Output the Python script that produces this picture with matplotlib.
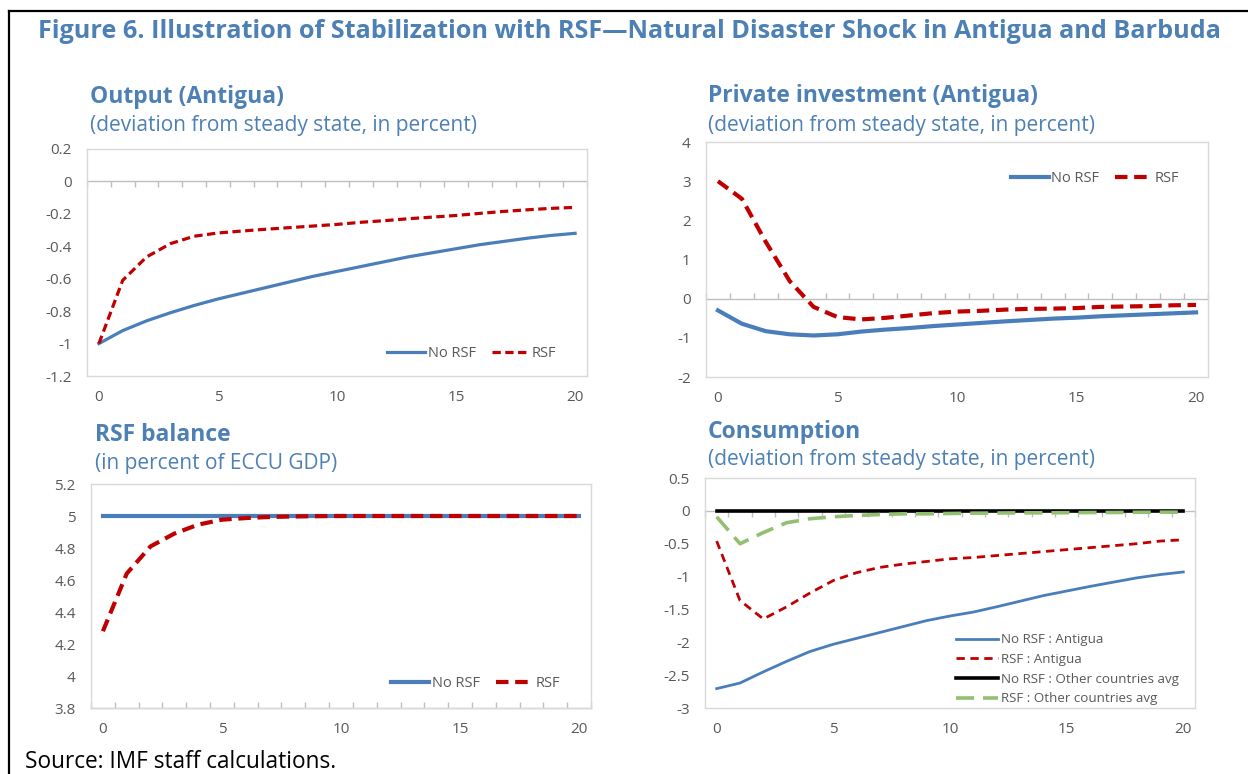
import matplotlib
matplotlib.use("Agg")
import matplotlib.pyplot as plt
from matplotlib.lines import Line2D
import numpy as np

plt.rcParams['font.family'] = ['Open Sans', 'DejaVu Sans']

W, H = 1248, 774
periods = list(range(21))

# Output (Antigua)
output_no_rsf = [-1.0, -0.92, -0.86, -0.81, -0.765, -0.725, -0.69, -0.655, -0.62, -0.585, -0.555,
                 -0.525, -0.495, -0.465, -0.44, -0.415, -0.39, -0.37, -0.35, -0.333, -0.32]
output_rsf = [-1.0, -0.61, -0.466, -0.384, -0.338, -0.318, -0.306, -0.295, -0.285, -0.275, -0.265,
              -0.252, -0.242, -0.23, -0.22, -0.21, -0.197, -0.185, -0.175, -0.166, -0.16]

# Private investment (Antigua)
inv_no_rsf = [-0.3, -0.64, -0.83, -0.91, -0.94, -0.91, -0.84, -0.79, -0.75, -0.70, -0.66,
              -0.62, -0.58, -0.545, -0.51, -0.485, -0.45, -0.425, -0.40, -0.375, -0.35]
inv_rsf = [3.0, 2.55, 1.45, 0.45, -0.21, -0.47, -0.53, -0.49, -0.43, -0.37, -0.33,
           -0.31, -0.28, -0.26, -0.255, -0.24, -0.21, -0.2, -0.19, -0.17, -0.16]

# RSF balance (in percent of ECCU GDP)
bal_no_rsf = [5.0] * 21
bal_rsf = [4.28, 4.64, 4.81, 4.89, 4.946, 4.977, 4.987, 4.994, 4.997, 4.999, 5.0,
           5.0, 5.0, 5.0, 5.0, 5.0, 5.0, 5.0, 5.0, 5.0, 5.0]

# Consumption
cons_no_rsf_ant = [-2.705, -2.62, -2.45, -2.29, -2.14, -2.03, -1.94, -1.85, -1.76, -1.67, -1.60,
                   -1.54, -1.46, -1.375, -1.29, -1.22, -1.15, -1.085, -1.02, -0.97, -0.93]
cons_rsf_ant = [-0.46, -1.365, -1.645, -1.46, -1.25, -1.06, -0.94, -0.86, -0.81, -0.77, -0.73,
                -0.71, -0.68, -0.65, -0.62, -0.59, -0.56, -0.53, -0.50, -0.46, -0.44]
cons_no_rsf_oth = [0.0] * 21
cons_rsf_oth = [-0.09, -0.5, -0.33, -0.18, -0.12, -0.09, -0.07, -0.056, -0.045, -0.045, -0.04,
                -0.035, -0.033, -0.03, -0.03, -0.028, -0.025, -0.025, -0.022, -0.02, -0.02]

out_yticks = [-1.2, -1.0, -0.8, -0.6, -0.4, -0.2, 0.0, 0.2]
out_ylabels = ['-1.2', '-1', '-0.8', '-0.6', '-0.4', '-0.2', '0', '0.2']
inv_yticks = [-2, -1, 0, 1, 2, 3, 4]
inv_ylabels = ['-2', '-1', '0', '1', '2', '3', '4']
bal_yticks = [3.8, 4.0, 4.2, 4.4, 4.6, 4.8, 5.0, 5.2]
bal_ylabels = ['3.8', '4', '4.2', '4.4', '4.6', '4.8', '5', '5.2']
cons_yticks = [-3, -2.5, -2, -1.5, -1, -0.5, 0, 0.5]
cons_ylabels = ['-3', '-2.5', '-2', '-1.5', '-1', '-0.5', '0', '0.5']
xticks = [0, 5, 10, 15, 20]

BLUE = '#4A7EBB'
RED = '#C00000'
GREEN = '#93BF72'
TITLE = '#4D80B5'
GRAY_TXT = '#595959'
BOX = '#D9D9D9'
AXLINE = '#BFBFBF'

fig = plt.figure(figsize=(W / 100, H / 100), dpi=100)


def add_ax(l, t, r, b):
    return fig.add_axes([l / W, 1 - b / H, (r - l) / W, (b - t) / H])


def style(ax, yticks, ylabels, cross):
    ax.set_xlim(-0.5, 20.5)
    ax.set_ylim(yticks[0], yticks[-1])
    ax.set_yticks(yticks)
    ax.set_yticklabels(ylabels)
    ax.set_xticks(xticks)
    ax.set_xticklabels([str(v) for v in xticks])
    ax.tick_params(axis='both', length=0, colors=GRAY_TXT, labelsize=11)
    ax.tick_params(axis='x', pad=10)
    ax.tick_params(axis='y', pad=11)
    for s in ax.spines.values():
        s.set_color(BOX)
        s.set_linewidth(1.0)
    frac = (cross - yticks[0]) / (yticks[-1] - yticks[0])
    sec = ax.secondary_xaxis(frac)
    sec.set_xticks(np.arange(-0.5, 21.0, 1.0))
    sec.tick_params(axis='x', direction='in', length=4, width=1, color=AXLINE,
                    labelbottom=False, labeltop=False)
    for s in sec.spines.values():
        s.set_color(AXLINE)
        s.set_linewidth(1.0)


leg_kw = dict(ncol=2, frameon=False, fontsize=10.5, labelcolor=GRAY_TXT, handlelength=2.6,
              handletextpad=0.15, columnspacing=1.1, borderaxespad=0)

# Panel 1: Output
ax1 = add_ax(87, 149, 587, 376)
style(ax1, out_yticks, out_ylabels, 0.0)
ax1.plot(periods, output_no_rsf, color=BLUE, lw=2.3, label='No RSF', zorder=3)
ax1.plot(periods, output_rsf, color=RED, lw=2.3, ls=(0, (2.6, 1.4)), label='RSF', zorder=4)
ax1.legend(loc='lower right', bbox_to_anchor=(0.95, 0.04), **leg_kw)

# Panel 2: Private investment
ax2 = add_ax(706, 142, 1208, 377)
style(ax2, inv_yticks, inv_ylabels, 0.0)
ax2.plot(periods, inv_no_rsf, color=BLUE, lw=3.0, label='No RSF', zorder=3)
ax2.plot(periods, inv_rsf, color=RED, lw=3.0, ls=(0, (3, 1.6)), label='RSF', zorder=4)
ax2.legend(loc='upper right', bbox_to_anchor=(0.955, 0.9), **leg_kw)

# Panel 3: RSF balance
ax3 = add_ax(91, 484, 591, 708)
style(ax3, bal_yticks, bal_ylabels, 3.8)
ax3.plot(periods, bal_no_rsf, color=BLUE, lw=3.0, label='No RSF', zorder=3)
ax3.plot(periods, bal_rsf, color=RED, lw=3.0, ls=(0, (3, 1.6)), label='RSF', zorder=4)
ax3.legend(loc='lower right', bbox_to_anchor=(0.95, 0.05), **leg_kw)

# Panel 4: Consumption
ax4 = add_ax(705, 478, 1195, 708)
style(ax4, cons_yticks, cons_ylabels, 0.0)
ax4.plot(periods, cons_no_rsf_ant, color=BLUE, lw=2.0, label='No RSF : Antigua', zorder=3)
ax4.plot(periods, cons_rsf_ant, color=RED, lw=2.0, ls=(0, (3, 2)), label='RSF : Antigua', zorder=4)
ax4.plot(periods, cons_no_rsf_oth, color='black', lw=2.6, label='No RSF : Other countries avg', zorder=5)
ax4.plot(periods, cons_rsf_oth, color=GREEN, lw=2.6, ls=(0, (5, 2.5)), label='RSF : Other countries avg', zorder=6)
ax4.legend(loc='lower right', bbox_to_anchor=(0.978, -0.012), ncol=1, frameon=False,
           fontsize=9.6, labelcolor=GRAY_TXT, handlelength=3.2, handletextpad=0.2,
           labelspacing=0.5, borderaxespad=0)


def ftext(px, py, s, **kw):
    fig.text(px / W, 1 - py / H, s, va='center', ha='left', **kw)


ftext(38, 31, 'Figure 6. Illustration of Stabilization with RSF\u2014Natural Disaster Shock in Antigua and Barbuda',
      color=TITLE, fontsize=18.2, fontweight='bold')
ftext(90, 97, 'Output (Antigua)', color=TITLE, fontsize=16.5, fontweight='bold')
ftext(90, 126, '(deviation from steady state, in percent)', color=TITLE, fontsize=15)
ftext(708, 96, 'Private investment (Antigua)', color=TITLE, fontsize=16.5, fontweight='bold')
ftext(708, 125, '(deviation from steady state, in percent)', color=TITLE, fontsize=15)
ftext(95, 435, 'RSF balance', color=TITLE, fontsize=16.5, fontweight='bold')
ftext(95, 464, '(in percent of ECCU GDP)', color=TITLE, fontsize=15)
ftext(708, 432, 'Consumption', color=TITLE, fontsize=16.5, fontweight='bold')
ftext(708, 460, '(deviation from steady state, in percent)', color=TITLE, fontsize=15)
ftext(25, 762, 'Source: IMF staff calculations.', color='black', fontsize=16.3)

# frame lines
fig.add_artist(Line2D([9 / W, 9 / W], [0, 1 - 11 / H], color='black', lw=1.6, transform=fig.transFigure))
fig.add_artist(Line2D([9 / W, 1], [1 - 11 / H, 1 - 11 / H], color='black', lw=1.6, transform=fig.transFigure))

fig.savefig('out.png', dpi=100)
